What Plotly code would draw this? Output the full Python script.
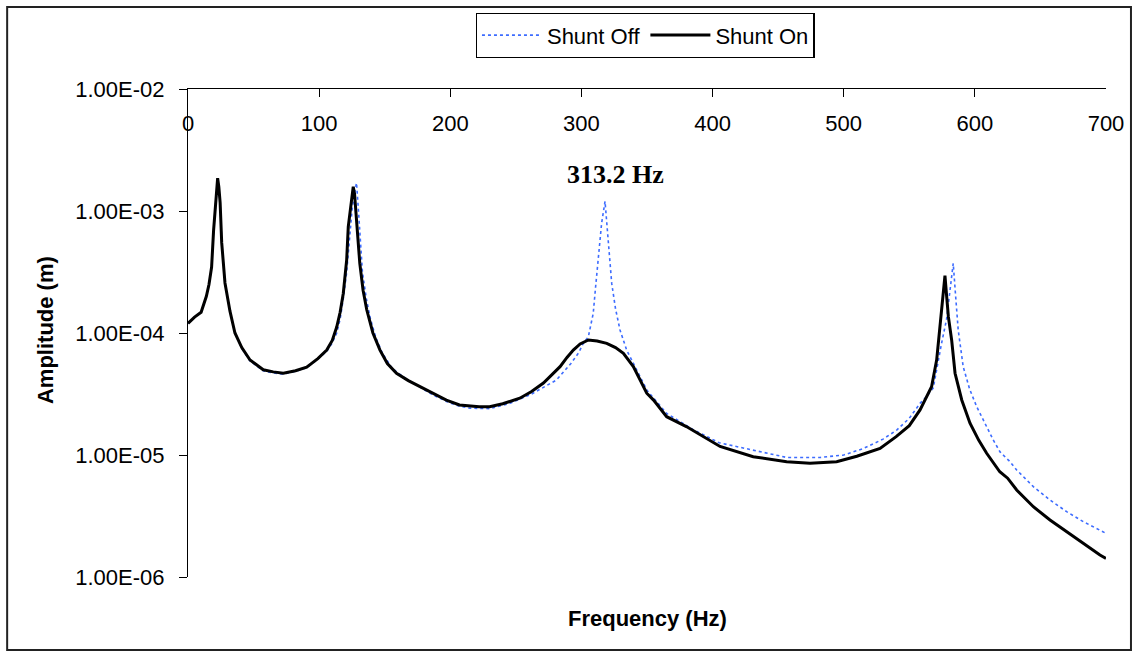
import plotly.graph_objects as go

# ---- data ----
freq_on = [0, 5, 10, 14, 16, 18, 19.5, 21, 22, 22.6, 23.5, 24.5, 25.7, 27, 28.2, 32, 35.8, 41, 47.3,
           57.4, 65, 72.7, 82, 90.5, 99, 105.8, 110, 113.4, 116, 118.4, 121, 122.2, 124, 126, 127,
           128.6, 130, 131, 133.5, 136.3, 141, 146.4, 152, 159, 168, 177, 187, 197, 207, 222, 230,
           240, 253, 262, 271, 278, 283.7, 289, 293.8, 299, 305.3, 312, 319.3, 326, 332, 339.6,
           349.8, 355, 365, 380, 385, 405.7, 431, 456.5, 474.3, 494.6, 510, 520, 527.7, 540, 550,
           558.2, 563, 567, 570.9, 573.4, 575.9, 577.2, 578.5, 579.8, 582.3, 584.9, 590, 596.3,
           603, 609, 619, 625, 631.9, 644.6, 657.3, 670, 682.7, 695.4, 700]
amp_on = [1.20e-4, 1.35e-4, 1.48e-4, 2.0e-4, 2.5e-4, 3.47e-4, 6.9e-4, 1.12e-3, 1.66e-3, 1.86e-3,
          1.58e-3, 1.17e-3, 5.5e-4, 3.55e-4, 2.57e-4, 1.51e-4, 1.0e-4, 7.6e-5, 6.0e-5,
          5.0e-5, 4.8e-5, 4.68e-5, 4.9e-5, 5.25e-5, 6.17e-5, 7.24e-5, 8.7e-5, 1.12e-4, 1.48e-4,
          2.11e-4, 3.98e-4, 7.41e-4, 1.12e-3, 1.58e-3, 1.38e-3,
          8.51e-4, 5.0e-4, 3.72e-4, 2.24e-4, 1.55e-4, 1.0e-4, 7.24e-5, 5.62e-5, 4.68e-5, 4.07e-5,
          3.63e-5, 3.16e-5, 2.82e-5, 2.57e-5, 2.49e-5, 2.49e-5,
          2.63e-5, 2.92e-5, 3.31e-5, 3.89e-5, 4.57e-5, 5.3e-5, 6.31e-5, 7.24e-5, 8.13e-5, 8.77e-5,
          8.61e-5, 8.22e-5, 7.59e-5, 6.81e-5, 5.3e-5,
          3.21e-5, 2.82e-5, 2.06e-5, 1.71e-5, 1.585e-5, 1.175e-5, 9.68e-6, 8.81e-6, 8.55e-6,
          8.81e-6, 9.77e-6, 1.064e-5, 1.132e-5, 1.413e-5, 1.738e-5,
          2.344e-5, 2.951e-5, 3.63e-5, 6.03e-5, 1.127e-4, 1.862e-4, 2.951e-4, 1.995e-4, 1.361e-4,
          8.77e-5, 4.677e-5, 2.825e-5, 1.82e-5,
          1.318e-5, 1.033e-5, 7.29e-6, 6.457e-6, 5.164e-6, 3.767e-6, 2.931e-6, 2.35e-6, 1.888e-6,
          1.514e-6, 1.422e-6]

freq_off = [0, 5, 10, 14, 16, 18, 19.5, 21, 22, 22.6, 23.5, 24.5, 25.7, 27, 28.2, 32, 35.8, 41, 47.3,
            57.4, 65, 72.7, 82, 90.5, 99, 105.8, 110, 113.4, 116, 118.4, 121, 123, 125, 127, 128.5,
            130, 131.5, 133, 136, 139, 143, 148, 155, 159, 168, 177, 187, 197, 207, 215, 230,
            245.5, 262, 281, 292, 298, 301.4, 305.3, 309, 311, 312.9, 315.4, 318, 320.5, 323.1,
            326, 329.4, 334.5, 340, 350, 365, 385, 405, 426, 456.5, 482, 500, 515, 530, 540.4,
            550, 558.2, 563, 568.3, 571.5, 574.6, 578.4, 581, 583.5, 585, 587.3, 591.1, 596,
            601.4, 614, 619.2, 626.8, 631.9, 644.6, 657.3, 670, 682.7, 700]
amp_off = [1.20e-4, 1.35e-4, 1.48e-4, 2.0e-4, 2.5e-4, 3.47e-4, 6.9e-4, 1.12e-3, 1.66e-3, 1.82e-3,
           1.58e-3, 1.17e-3, 5.5e-4, 3.55e-4, 2.57e-4, 1.51e-4, 1.0e-4, 7.5e-5, 5.9e-5,
           4.9e-5, 4.7e-5, 4.6e-5, 4.85e-5, 5.2e-5, 6.1e-5, 7.1e-5, 8.3e-5, 1.0e-4, 1.3e-4,
           1.9e-4, 3.16e-4, 5.62e-4, 1.0e-3, 1.41e-3, 1.70e-3,
           1.0e-3, 5.0e-4, 3.16e-4, 1.91e-4, 1.32e-4, 9.33e-5, 6.92e-5, 5.25e-5, 4.8e-5, 4.1e-5,
           3.6e-5, 3.1e-5, 2.75e-5, 2.51e-5, 2.42e-5, 2.4e-5,
           2.65e-5, 3.16e-5, 4.12e-5, 5.62e-5, 6.92e-5, 8.22e-5, 9.33e-5, 1.45e-4, 2.51e-4,
           4.23e-4, 7.94e-4, 1.20e-3, 5.78e-4, 2.55e-4,
           1.58e-4, 1.06e-4, 7.24e-5, 5.5e-5, 3.39e-5, 2.19e-5, 1.62e-5, 1.26e-5, 1.13e-5,
           9.55e-6, 9.55e-6, 1.0e-5, 1.13e-5, 1.35e-5, 1.6e-5,
           2.0e-5, 2.65e-5, 3.0e-5, 3.55e-5, 5.5e-5, 8.22e-5, 1.29e-4, 2.24e-4, 3.72e-4,
           2.24e-4, 1.06e-4, 5.3e-5, 3.47e-5,
           2.49e-5, 1.33e-5, 1.06e-5, 8.81e-6, 7.53e-6, 5.5e-6, 4.28e-6, 3.43e-6, 2.84e-6, 2.28e-6]

x_ticks = [0, 100, 200, 300, 400, 500, 600, 700]
y_ticks = [1e-6, 1e-5, 1e-4, 1e-3, 1e-2]
y_ticktext = ["1.00E-06", "1.00E-05", "1.00E-04", "1.00E-03", "1.00E-02"]

FONT = "Arial, 'Liberation Sans', sans-serif"

fig = go.Figure()
fig.add_trace(go.Scatter(x=freq_off, y=amp_off, mode="lines", name="Shunt Off",
                         line=dict(color="#3d6cff", width=1.6, dash="dot")))
fig.add_trace(go.Scatter(x=freq_on, y=amp_on, mode="lines", name="Shunt On",
                         line=dict(color="black", width=3)))

fig.update_layout(
    width=1138, height=653,
    margin=dict(l=188, r=32, t=89, b=76),
    paper_bgcolor="white", plot_bgcolor="white",
    font=dict(family=FONT, size=22, color="black"),
    showlegend=True,
    legend=dict(orientation="h", x=0.498, xanchor="center", y=1.1557, yanchor="top",
                bordercolor="black", borderwidth=1.3, bgcolor="white",
                font=dict(family=FONT, size=22, color="black"), itemwidth=60,
                tracegroupgap=0),
    xaxis=dict(range=[0, 700], side="top", showline=True, linecolor="black", linewidth=1.3,
               ticks="inside", ticklen=8, tickwidth=1.3, tickcolor="black",
               tickvals=x_ticks, ticklabelposition="inside", ticklabeloverflow="allow",
               ticklabelstandoff=20,
               tickfont=dict(family=FONT, size=22, color="black"),
               showgrid=False, zeroline=False, fixedrange=True),
    yaxis=dict(type="log", range=[-6, -2], showline=True, linecolor="black", linewidth=1.3,
               ticks="outside", ticklen=8, tickwidth=1.3, tickcolor="black",
               tickvals=y_ticks, ticktext=y_ticktext, ticklabelstandoff=10,
               tickfont=dict(family=FONT, size=22, color="black"),
               showgrid=False, zeroline=False),
)

fig.add_annotation(text="<b>Amplitude (m)</b>", textangle=-90, xref="paper", yref="paper",
                   x=-0.1558, y=0.506, xanchor="center", yanchor="middle", showarrow=False,
                   font=dict(family=FONT, size=22, color="black"))
fig.add_annotation(text="<b>Frequency (Hz)</b>", xref="paper", yref="paper",
                   x=0.5, y=-0.086, xanchor="center", yanchor="middle", showarrow=False,
                   font=dict(family=FONT, size=22, color="black"))
fig.add_annotation(text="<b>313.2 Hz</b>", xref="x", yref="y", x=325.6, y=-2.697,
                   xanchor="center", yanchor="middle", showarrow=False,
                   font=dict(family="'Times New Roman', 'Liberation Serif', serif", size=26,
                             color="black"))

# outer frame of the chart area
fig.add_shape(type="rect", xref="paper", yref="paper", x0=-0.197, x1=1.0272, y0=-0.1496,
              y1=1.168, line=dict(color="#222222", width=2), layer="below")

fig.write_html("out.html")
